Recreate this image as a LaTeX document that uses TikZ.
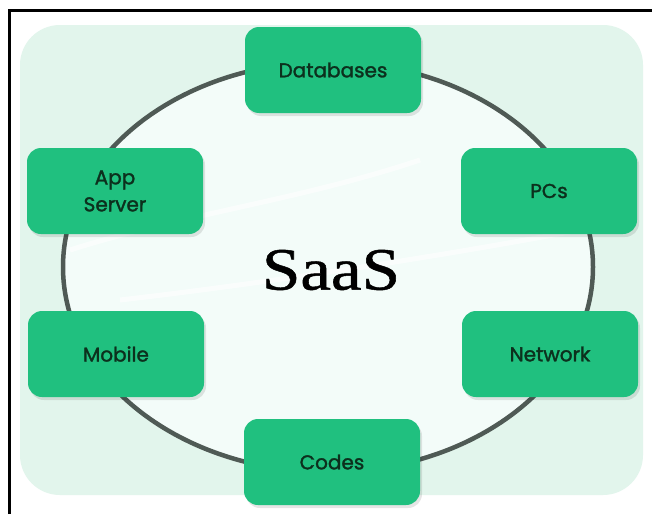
\documentclass[tikz,border=0pt]{standalone}
\usepackage{fontspec}
\setmainfont{Liberation Serif}[RawFeature={embolden=0.8}]
\newfontfamily\boxfont{Poppins}[RawFeature={embolden=1.6}]
\usetikzlibrary{shapes.geometric}
\definecolor{panelmint}{HTML}{E2F5EC}
\definecolor{innermint}{HTML}{F3FCF9}
\definecolor{boxgreen}{HTML}{20C07F}
\definecolor{ringgray}{HTML}{4F5A55}
\definecolor{boxtext}{HTML}{0C301D}
\tikzset{
  svcbox/.style={draw=none, fill=boxgreen, rounded corners=14pt,
    minimum width=176pt, minimum height=86pt, inner sep=0pt,
    font=\boxfont\fontsize{20}{27}\selectfont, text=boxtext, align=center},
  shadowbox/.style={fill=black, opacity=0.10, rounded corners=14pt,
    minimum width=176pt, minimum height=86pt, inner sep=0pt},
  framebar/.style={line width=3pt, draw=black}
}
\begin{document}
\begin{tikzpicture}[x=1pt, y=-1pt]
\useasboundingbox (0,0) rectangle (652,514);
\fill[white] (0,0) rectangle (652,514);
% mint panel
\fill[panelmint, rounded corners=40pt] (20,25) rectangle (643,495);
% inner ellipse area and ring
\node[ellipse, draw=ringgray, line width=4.5pt, fill=innermint,
  minimum width=530pt, minimum height=410pt, inner sep=0pt] (ring) at (328,267) {};
% faint decorative swooshes
\draw[white, line width=5pt, opacity=0.6] (70,250) .. controls (180,215) and (300,200) .. (420,160);
\draw[white, line width=5pt, opacity=0.6] (120,300) .. controls (250,285) and (420,260) .. (580,230);
% shadows
\foreach \p in {(335,73),(551,194),(117,194),(118,357),(334,465),(552,357)}
  \node[shadowbox] at \p {};
% boxes
\node[svcbox] (db)  at (333,70)  {Databases};
\node[svcbox] (pc)  at (549,191) {PCs};
\node[svcbox] (app) at (115,191) {App\\Server};
\node[svcbox] (mob) at (116,354) {Mobile};
\node[svcbox] (net) at (550,354) {Network};
\node[svcbox] (cod) at (332,462) {Codes};
% title
\node[inner sep=0pt, text=black] (saas) at (331,270)
  {\scalebox{1.15}[1]{\fontsize{60}{60}\selectfont SaaS}};
% frame
\draw[framebar] (9.5,514) -- (9.5,10.5) -- (652,10.5);
\end{tikzpicture}
\end{document}
